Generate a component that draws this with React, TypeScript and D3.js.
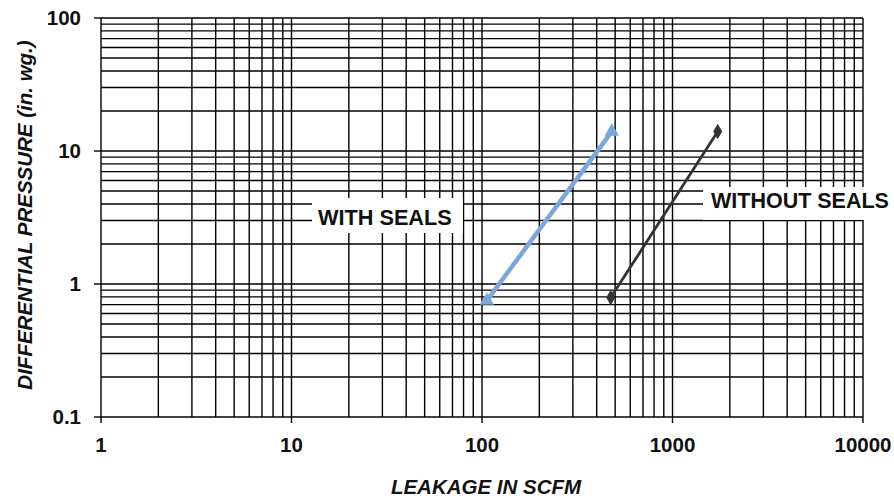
import React from "react";
import * as d3 from "d3";

const xTicks = [1, 10, 100, 1000, 10000];
const yTicks = [0.1, 1, 10, 100];
const xTickLabels = ["1", "10", "100", "1000", "10000"];
const yTickLabels = ["0.1", "1", "10", "100"];

const withSealsX = [106, 480];
const withSealsY = [0.75, 14];
const withoutSealsX = [474, 1727];
const withoutSealsY = [0.79, 14];

const W = 894;
const H = 498;
const left = 101;
const right = 863;
const top = 18;
const bottom = 417;

const FONT = "'Liberation Sans', Arial, sans-serif";

export default function App() {
  const x = d3.scaleLog().domain([1, 10000]).range([left, right]);
  const y = d3.scaleLog().domain([0.1, 100]).range([bottom, top]);

  const xGrid: number[] = [];
  for (let k = 0; k < 4; k++) for (let i = 1; i <= 9; i++) xGrid.push(i * Math.pow(10, k));
  xGrid.push(10000);
  const yGrid: number[] = [];
  for (let k = -1; k < 2; k++) for (let i = 1; i <= 9; i++) yGrid.push(+(i * Math.pow(10, k)).toPrecision(6));
  yGrid.push(100);

  const line = d3
    .line<[number, number]>()
    .x((d) => x(d[0]))
    .y((d) => y(d[1]));

  const withPts = withSealsX.map((v, i) => [v, withSealsY[i]] as [number, number]);
  const withoutPts = withoutSealsX.map((v, i) => [v, withoutSealsY[i]] as [number, number]);

  const tri = d3.symbol().type(d3.symbolTriangle).size(90)() as string;
  const dia = d3.symbol().type(d3.symbolDiamond).size(70)() as string;

  return (
    <svg
      width={W}
      height={H}
      style={{ position: "absolute", left: 0, top: 0, background: "#fff" }}
      fontFamily={FONT}
    >
      <rect x={0} y={0} width={W} height={H} fill="#fff" />
      {xGrid.map((v, i) => (
        <line key={"xg" + i} x1={x(v)} x2={x(v)} y1={top} y2={bottom} stroke="#000" strokeWidth={1.4} />
      ))}
      {yGrid.map((v, i) => (
        <line key={"yg" + i} x1={left} x2={right} y1={y(v)} y2={y(v)} stroke="#000" strokeWidth={1.4} />
      ))}
      {xTicks.map((v, i) => (
        <g key={"xt" + i}>
          <line x1={x(v)} x2={x(v)} y1={bottom} y2={bottom + 6} stroke="#000" strokeWidth={1.4} />
          <text x={x(v)} y={452} textAnchor="middle" fontSize={20.5} fontWeight="bold" fill="#111">
            {xTickLabels[i]}
          </text>
        </g>
      ))}
      {yTicks.map((v, i) => (
        <g key={"yt" + i}>
          <line x1={left - 7} x2={left} y1={y(v)} y2={y(v)} stroke="#000" strokeWidth={1.4} />
          <text x={81} y={y(v) + 7} textAnchor="end" fontSize={20.5} fontWeight="bold" fill="#111">
            {yTickLabels[i]}
          </text>
        </g>
      ))}

      {/* label boxes */}
      <rect x={312} y={198} width={151} height={35} fill="#fff" />
      <text x={318} y={225} fontSize={21.7} fontWeight="bold" fill="#111">
        WITH SEALS
      </text>
      <rect x={703} y={187} width={191} height={33} fill="#fff" />
      <text x={711} y={208} fontSize={21.5} fontWeight="bold" fill="#111">
        WITHOUT SEALS
      </text>

      <path d={line(withPts) as string} fill="none" stroke="#7BA7DC" strokeWidth={4.5} />
      {withPts.map((p, i) => (
        <path key={"wm" + i} d={tri} transform={`translate(${x(p[0])},${y(p[1])})`} fill="#7BA7DC" />
      ))}
      <path d={line(withoutPts) as string} fill="none" stroke="#333" strokeWidth={2.8} />
      {withoutPts.map((p, i) => (
        <path key={"om" + i} d={dia} transform={`translate(${x(p[0])},${y(p[1])})`} fill="#333" />
      ))}

      <text x={486} y={494} textAnchor="middle" fontSize={20.5} fontWeight="bold" fontStyle="italic" fill="#111">
        LEAKAGE IN SCFM
      </text>
      <text
        transform={`translate(32,215) rotate(-90)`}
        textAnchor="middle"
        fontSize={20.5}
        fontWeight="bold"
        fontStyle="italic"
        fill="#111"
      >
        DIFFERENTIAL PRESSURE (in. wg.)
      </text>
    </svg>
  );
}
